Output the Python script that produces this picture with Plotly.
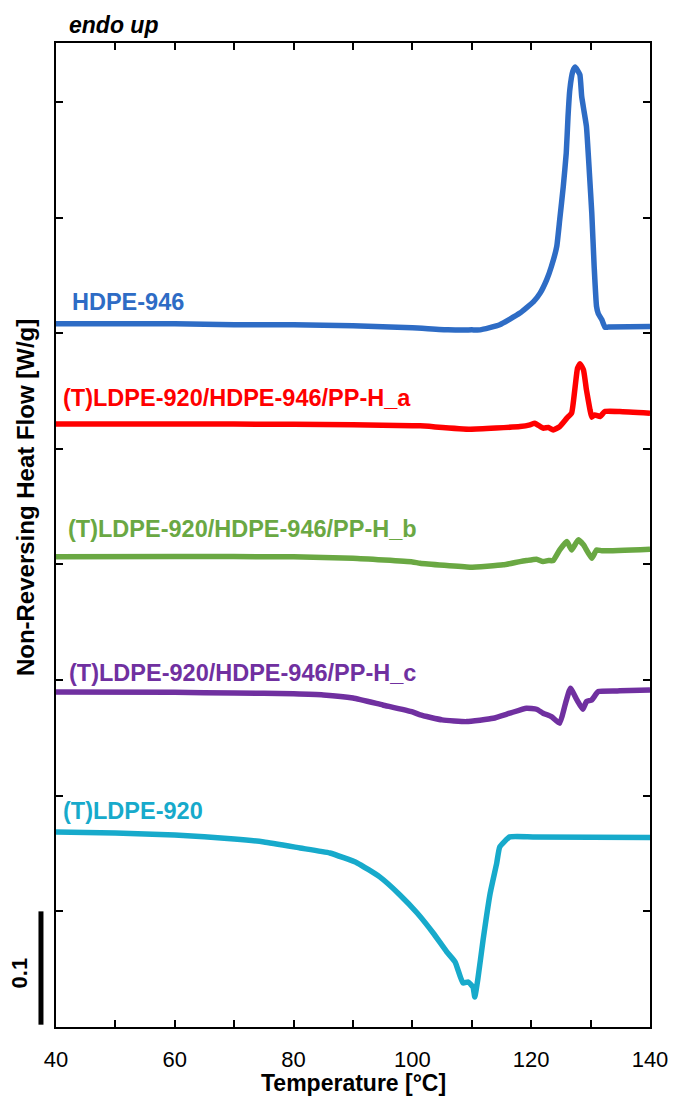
import plotly.graph_objects as go

# Temperature (°C) and offset non-reversing heat flow (W/g) for each sample
t_hdpe = [40, 50, 60, 70, 80, 90, 100, 106, 110, 111.4, 114.7, 118.1, 120.4, 121.5, 122.6,
          123.4, 124.3, 124.8, 125.4, 125.9, 126.2, 126.5, 127.0, 127.4, 127.8, 128.2, 128.5,
          128.9, 129.3, 129.8, 130.2, 130.6, 131.0, 131.3, 131.9, 132.4, 133.0, 140]
hf_hdpe = [0.6081, 0.6081, 0.6081, 0.6073, 0.6073, 0.6064, 0.6047, 0.6029, 0.6029, 0.6029,
           0.6073, 0.6174, 0.6274, 0.6347, 0.6462, 0.6577, 0.6750, 0.6981, 0.7269, 0.7558,
           0.7875, 0.8106, 0.8264, 0.8302, 0.8273, 0.8235, 0.8048, 0.7918, 0.7788, 0.7385,
           0.7039, 0.6577, 0.6231, 0.6168, 0.6116, 0.6053, 0.6053, 0.6058]

t_blend_a = [40, 60, 80, 90, 100, 101.3, 109.7, 118.1, 119.8, 120.6, 122.0, 122.9, 123.7, 124.8,
             126.0, 126.8, 127.4, 127.8, 128.2, 128.8, 129.3, 129.9, 130.2, 130.7, 131.6, 132.4,
             134.9, 140]
hf_blend_a = [0.5216, 0.5216, 0.5212, 0.5208, 0.5199, 0.5199, 0.5170, 0.5193, 0.5208, 0.5222,
              0.5179, 0.5185, 0.5164, 0.5193, 0.5266, 0.5309, 0.5539, 0.5698, 0.5735, 0.5683,
              0.5510, 0.5337, 0.5274, 0.5294, 0.5280, 0.5323, 0.5323, 0.5309]

t_blend_b = [40, 60, 80, 90, 100, 101.3, 109.7, 115.3, 118.1, 119.2, 120.9, 122.0, 122.9, 123.7,
             124.8, 126.0, 126.8, 127.9, 128.8, 130.2, 131.0, 131.9, 140]
hf_blend_b = [0.4066, 0.4070, 0.4066, 0.4053, 0.4022, 0.4011, 0.3977, 0.3997, 0.4025, 0.4034,
              0.4046, 0.4025, 0.4034, 0.4034, 0.4126, 0.4198, 0.4126, 0.4213, 0.4170, 0.4054,
              0.4126, 0.4118, 0.4132]

t_blend_c = [40, 60, 70, 80, 85, 90, 95, 100, 101.3, 105, 109.1, 113.6, 116.4, 119.2, 120.9,
             122.0, 123.4, 124.8, 125.7, 126.6, 127.7, 128.7, 129.3, 130.2, 131.3, 134.9, 140]
hf_blend_c = [0.2898, 0.2894, 0.2889, 0.2881, 0.2872, 0.2846, 0.2785, 0.2725, 0.2699, 0.2656,
              0.2641, 0.2670, 0.2714, 0.2757, 0.2748, 0.2714, 0.2684, 0.2627, 0.2785, 0.2930,
              0.2829, 0.2748, 0.2814, 0.2829, 0.2901, 0.2907, 0.2915]

t_ldpe = [40, 50, 60, 70, 75, 81.1, 86.1, 90.7, 94.5, 97.9, 100.8, 103.5, 105.8, 107.2, 108.5,
          109.4, 110.2, 110.5, 111.0, 111.9, 113.1, 114.2, 114.7, 116.4, 120.3, 140]
hf_ldpe = [0.1687, 0.1678, 0.1661, 0.1626, 0.1600, 0.1548, 0.1505, 0.1419, 0.1298, 0.1142,
           0.0986, 0.0813, 0.0649, 0.0562, 0.0381, 0.0389, 0.0346, 0.0260, 0.0407, 0.0753,
           0.1159, 0.1419, 0.1557, 0.1644, 0.1644, 0.1639]

names = ["HDPE-946", "(T)LDPE-920/HDPE-946/PP-H_a", "(T)LDPE-920/HDPE-946/PP-H_b",
         "(T)LDPE-920/HDPE-946/PP-H_c", "(T)LDPE-920"]
colors = ["#2E6CC5", "#FF0000", "#6AA843", "#7030A0", "#17AACB"]
label_x = [42.3, 40.9, 41.7, 41.9, 40.9]
label_y = [0.6272, 0.5441, 0.4308, 0.3062, 0.1869]

x_ticks = [40, 50, 60, 70, 80, 90, 100, 110, 120, 130, 140]
x_tick_text = ["40", "", "60", "", "80", "", "100", "", "120", "", "140"]
y_ticks = [0.1, 0.2, 0.3, 0.4, 0.5, 0.6, 0.7, 0.8]
scale_bar = [0.0, 0.1]

FONT = "Liberation Sans, Arial, sans-serif"

series = [(t_hdpe, hf_hdpe), (t_blend_a, hf_blend_a), (t_blend_b, hf_blend_b),
          (t_blend_c, hf_blend_c), (t_ldpe, hf_ldpe)]

fig = go.Figure()
for (t, hf), name, col in zip(series, names, colors):
    fig.add_trace(go.Scatter(x=t, y=hf, mode="lines", name=name,
                             line=dict(color=col, width=5.5, shape="spline", smoothing=0.4),
                             showlegend=False))

for name, col, lx, ly in zip(names, colors, label_x, label_y):
    fig.add_annotation(x=lx, y=ly, xref="x", yref="y", text=f"<b>{name}</b>",
                       showarrow=False, xanchor="left", yanchor="middle",
                       font=dict(family=FONT, size=23.5, color=col))

# 0.1 W/g scale bar beside the y axis
fig.add_shape(type="line", xref="paper", yref="y", x0=-0.0253, x1=-0.0253,
              y0=scale_bar[0] + 0.002, y1=scale_bar[1], line=dict(color="black", width=5))
fig.add_annotation(xref="paper", yref="y", x=-0.061, y=0.047, text="<b>0.1</b>",
                   textangle=-90, showarrow=False, xanchor="center", yanchor="middle",
                   font=dict(family=FONT, size=22, color="black"))

fig.add_annotation(xref="paper", yref="paper", x=-0.052, y=0.5376,
                   text="<b>Non-Reversing Heat Flow [W/g]</b>", textangle=-90,
                   xanchor="center", yanchor="middle",
                   showarrow=False, font=dict(family=FONT, size=24, color="black"))
fig.add_annotation(xref="paper", yref="paper", x=0.5, y=-0.0565, yanchor="middle",
                   text="<b>Temperature [°C]</b>", showarrow=False,
                   font=dict(family=FONT, size=23, color="black"))
fig.add_annotation(xref="paper", yref="paper", x=0.0185, y=1.0183, xanchor="left",
                   yanchor="middle", text="<b><i>endo up</i></b>", showarrow=False,
                   font=dict(family=FONT, size=23, color="black"))

fig.update_layout(
    width=673, height=1097,
    margin=dict(l=56, r=23, t=43, b=70, autoexpand=False),
    paper_bgcolor="white", plot_bgcolor="white",
    font=dict(family=FONT, color="black"),
    xaxis=dict(range=[40, 140], tickvals=x_ticks, ticktext=x_tick_text,
               ticks="inside", ticklen=7, tickwidth=2, tickcolor="black",
               showline=True, linecolor="black", linewidth=2, mirror="ticks",
               showgrid=False, zeroline=False, ticklabelstandoff=12, automargin=False,
               tickfont=dict(family=FONT, size=22, color="black")),
    yaxis=dict(range=[0, 0.851], tickvals=y_ticks, showticklabels=False,
               ticks="inside", ticklen=7, tickwidth=2, tickcolor="black",
               showline=True, linecolor="black", linewidth=2, mirror="ticks",
               showgrid=False, zeroline=False, automargin=False),
)

fig.write_html("out.html")
